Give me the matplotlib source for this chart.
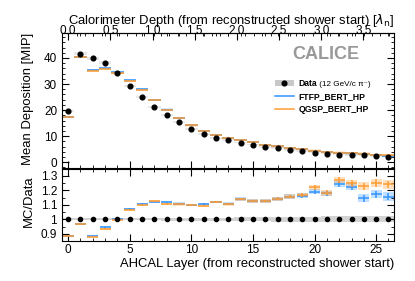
import matplotlib

matplotlib.use("Agg")

import matplotlib.pyplot as plt
import numpy as np
from matplotlib.legend_handler import HandlerTuple
from matplotlib.lines import Line2D
from matplotlib.patches import Patch
from matplotlib.ticker import MultipleLocator

plt.rcParams["font.family"] = ["Liberation Sans", "DejaVu Sans"]

# AHCAL layer from shower start
layers = np.arange(27)

# mean deposition in data [MIP]
data_mean = [19.6, 41.7, 39.9, 38.2, 34.3, 29.3, 25.2, 21.2, 18.1, 15.4,
             12.9, 10.9, 9.4, 8.5, 7.5, 6.8, 5.9, 5.3, 4.6, 4.3,
             3.7, 3.3, 2.9, 2.8, 2.7, 2.3, 2.1]
# relative uncertainty on data
data_rel_err = [0.008, 0.008, 0.008, 0.008, 0.008, 0.008, 0.008, 0.008, 0.009, 0.009,
                0.01, 0.01, 0.011, 0.012, 0.013, 0.014, 0.015, 0.016, 0.017, 0.018,
                0.019, 0.02, 0.02, 0.021, 0.021, 0.022, 0.022]

# MC / data ratios
ratio_ftfp = [0.886, 0.968, 0.884, 0.945, 1.005, 1.071, 1.108, 1.122, 1.118, 1.108,
              1.100, 1.105, 1.120, 1.107, 1.140, 1.126, 1.126, 1.143, 1.156, 1.162,
              1.190, 1.178, 1.243, 1.224, 1.146, 1.172, 1.157]
ratio_qgsp = [0.886, 0.966, 0.881, 0.934, 0.995, 1.067, 1.096, 1.124, 1.103, 1.103,
              1.098, 1.094, 1.120, 1.105, 1.138, 1.126, 1.126, 1.143, 1.156, 1.167,
              1.220, 1.183, 1.270, 1.247, 1.229, 1.250, 1.240]
# statistical uncertainty on the ratio
ratio_err = [0.004, 0.004, 0.004, 0.004, 0.004, 0.004, 0.004, 0.004, 0.004, 0.005,
             0.005, 0.006, 0.006, 0.007, 0.008, 0.009, 0.01, 0.011, 0.012, 0.013,
             0.016, 0.017, 0.02, 0.022, 0.024, 0.025, 0.027]

lambda_per_layer = 0.146

blue = "#3495ff"
orange = "#ff9d33"
grey_band = "#c8c8c8"


def style_axis(ax):
    ax.tick_params(which="both", direction="in", top=True, right=True, labelsize=8.5)
    ax.tick_params(which="major", length=5)
    ax.tick_params(which="minor", length=2.5)


def main():
    data = np.array(data_mean)
    data_err = data * np.array(data_rel_err)
    mc_ftfp = data * np.array(ratio_ftfp)
    mc_qgsp = data * np.array(ratio_qgsp)

    fig = plt.figure(figsize=(4.15, 2.81), dpi=100)
    ax = fig.add_axes([0.1494, 0.4021, 0.8, 0.4806])
    rax = fig.add_axes([0.1494, 0.1423, 0.8, 0.2563], sharex=ax)

    # --- main panel
    ax.bar(layers, 2 * data_err + 0.4, bottom=data - data_err - 0.2, width=1.0,
           color=grey_band, alpha=0.4, linewidth=0)
    for mc, color in [(mc_ftfp, blue), (mc_qgsp, orange)]:
        ax.bar(layers, 0.9, bottom=mc - 0.45, width=1.0, color=color,
               alpha=0.22, linewidth=0)
        ax.hlines(mc, layers - 0.5, layers + 0.5, color=color, lw=1.1)
    ax.plot(layers, data, "o", color="black", ms=3.4)

    ax.set_xlim(-0.5, 26.45)
    ax.set_ylim(-2.2, 49.6)
    ax.yaxis.set_major_locator(MultipleLocator(10))
    ax.yaxis.set_minor_locator(MultipleLocator(2))
    ax.xaxis.set_major_locator(MultipleLocator(5))
    ax.xaxis.set_minor_locator(MultipleLocator(1))
    style_axis(ax)
    ax.tick_params(top=False, labelbottom=False)
    ax.set_ylabel("Mean Deposition [MIP]", fontsize=9.4, loc="top")
    ax.yaxis.set_label_coords(-0.083, 1.0)

    top = ax.secondary_xaxis(
        "top",
        functions=(lambda x: x * lambda_per_layer, lambda x: x / lambda_per_layer),
    )
    top.xaxis.set_major_locator(MultipleLocator(0.5))
    top.xaxis.set_minor_locator(MultipleLocator(0.1))
    top.tick_params(which="both", direction="in", labelsize=8.5)
    top.tick_params(which="major", length=5, pad=-2.6)
    top.tick_params(which="minor", length=2.5)
    top.set_xlabel("Calorimeter Depth (from reconstructed shower start) [$\\lambda_{\\mathrm{n}}$]",
                   fontsize=9.4, loc="right", labelpad=0.5)

    ax.text(0.794, 0.838, "CALICE", transform=ax.transAxes, fontsize=13,
            fontweight="bold", color="#999999", ha="center", va="center")

    handles = [
        (Patch(facecolor=grey_band, edgecolor="none"),
         Line2D([], [], marker="o", color="black", ls="none", ms=3.4)),
        Line2D([], [], color=blue, lw=1.1),
        Line2D([], [], color=orange, lw=1.1),
    ]
    labels = ["Data", "FTFP_BERT_HP", "QGSP_BERT_HP"]
    leg = ax.legend(handles, labels, loc="upper left", bbox_to_anchor=(0.622, 0.705),
                    frameon=False, prop={"size": 6.2, "weight": "bold"},
                    handler_map={tuple: HandlerTuple(ndivide=1)},
                    handlelength=2.3, labelspacing=0.5, handletextpad=0.5,
                    borderpad=0.2)
    ax.annotate(" (12 GeV/c \u03c0\u207b)", xy=(1, 0), xycoords=leg.get_texts()[0],
                va="bottom", ha="left", fontsize=5.9, zorder=10)

    # --- ratio panel
    rax.fill_between(layers, 1 - np.array(data_rel_err), 1 + np.array(data_rel_err),
                     step="mid", color=grey_band, alpha=0.8, linewidth=0)
    rax.fill_between([-0.5, 0], [1 - data_rel_err[0]] * 2, [1 + data_rel_err[0]] * 2,
                     color=grey_band, alpha=0.8, linewidth=0)
    rax.fill_between([26, 26.5], [1 - data_rel_err[-1]] * 2, [1 + data_rel_err[-1]] * 2,
                     color=grey_band, alpha=0.8, linewidth=0)
    for ratio, color in [(ratio_ftfp, blue), (ratio_qgsp, orange)]:
        r = np.array(ratio)
        e = np.array(ratio_err)
        rax.bar(layers, 2 * e + 0.006, bottom=r - e - 0.003, width=0.9,
                color=color, alpha=0.3, linewidth=0)
        rax.errorbar(layers, r, xerr=0.45, yerr=e, fmt="none", ecolor=color,
                     elinewidth=1.1, capsize=0)
    rax.plot(layers, np.ones(len(layers)), "o", color="black", ms=3)

    rax.set_ylim(0.85, 1.347)
    rax.yaxis.set_minor_locator(MultipleLocator(0.05))
    rax.set_yticks([0.9, 1.0, 1.1, 1.2, 1.3])
    rax.set_yticklabels(["0.9", "1", "1.1", "1.2", "1.3"])
    style_axis(rax)
    rax.tick_params(axis="x", pad=2)
    rax.set_ylabel("MC/Data", fontsize=9.4)
    rax.yaxis.set_label_coords(-0.083, 0.55)
    rax.set_xlabel("AHCAL Layer (from reconstructed shower start)", fontsize=9.4,
                   loc="right", labelpad=1.5)

    fig.savefig("out.png", dpi=100)
    plt.close(fig)


if __name__ == "__main__":
    main()
